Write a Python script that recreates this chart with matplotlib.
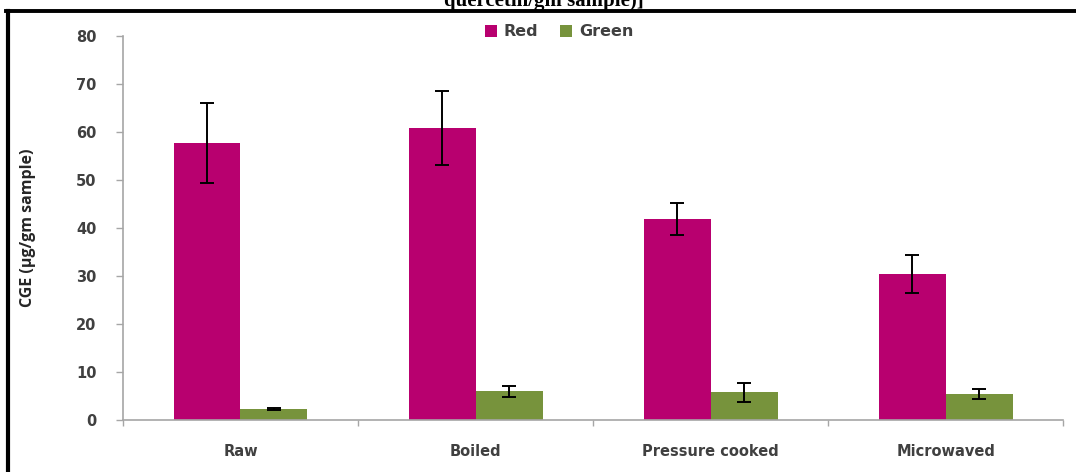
import numpy as np
import matplotlib
matplotlib.use('Agg')
import matplotlib.pyplot as plt
from matplotlib.lines import Line2D

# CGE content per cooking method (µg/gm sample)
methods = ['Raw', 'Boiled', 'Pressure cooked', 'Microwaved']
red_vals = [57.7, 60.8, 41.9, 30.4]
red_err = [8.3, 7.7, 3.3, 3.9]
green_vals = [2.3, 6.0, 5.8, 5.4]
green_err = [0.2, 1.2, 2.0, 1.0]

RED = '#b8006f'
GREEN = '#77933c'
AXIS_GRAY = '#a6a6a6'
TEXT_GRAY = '#404040'

fig = plt.figure(figsize=(10.76, 4.72), dpi=100)
ax = fig.add_axes([0.1143, 0.110, 0.8737, 0.8136])

x = np.arange(len(methods)) + 0.5
w = 0.285
err_kw = dict(ecolor='black', elinewidth=1.4, capsize=5, capthick=1.4)
ax.bar(x - w / 2, red_vals, w, color=RED, label='Red',
       yerr=red_err, error_kw=err_kw)
ax.bar(x + w / 2, green_vals, w, color=GREEN, label='Green',
       yerr=green_err, error_kw=err_kw)

ax.set_xlim(0, len(methods))
ax.set_ylim(0, 80)
ax.set_yticks(np.arange(0, 81, 10))
ax.set_xticks(np.arange(len(methods) + 1))
ax.set_xticklabels([])
ax.set_xticks(x, minor=True)
ax.set_xticklabels(methods, minor=True, fontsize=10.5, fontweight='bold',
                   color=TEXT_GRAY, family='DejaVu Sans')
ax.tick_params(axis='x', which='minor', length=0, pad=17)
ax.tick_params(axis='x', which='major', length=4, color=AXIS_GRAY, width=1)
ax.tick_params(axis='y', length=5, color=AXIS_GRAY, width=1, pad=14,
               labelsize=10.5, labelcolor=TEXT_GRAY)
for lbl in ax.get_yticklabels():
    lbl.set_fontweight('bold')

for side in ('top', 'right'):
    ax.spines[side].set_visible(False)
for side in ('left', 'bottom'):
    ax.spines[side].set_color(AXIS_GRAY)
    ax.spines[side].set_linewidth(1.2)

ax.set_ylabel('CGE (µg/gm sample)', fontsize=11.5, family='Open Sans',
              fontweight='bold', color='#262626')
ax.yaxis.set_label_coords(-0.093, 0.5)

ax.legend(loc='upper center', bbox_to_anchor=(0.464, 1.068), ncol=2,
          frameon=False, handlelength=0.75, handleheight=0.75,
          handletextpad=0.4, columnspacing=1.4,
          prop=dict(weight='bold', size=11.5))
for t in ax.get_legend().get_texts():
    t.set_color(TEXT_GRAY)

# caption text running off the top edge plus the surrounding frame
fig.text(0.505, 1 - 6 / 472, 'quercetin/gm sample)]', ha='center',
         va='baseline', fontsize=15, fontweight='bold',
         family='Liberation Serif')
fig.add_artist(Line2D([0.006, 1.0], [1 - 10.5 / 472] * 2,
                      transform=fig.transFigure, color='black', lw=2.8))
fig.add_artist(Line2D([7.5 / 1076] * 2, [0, 1 - 10.5 / 472],
                      transform=fig.transFigure, color='black', lw=3.0))

fig.savefig('out.png', dpi=100)
